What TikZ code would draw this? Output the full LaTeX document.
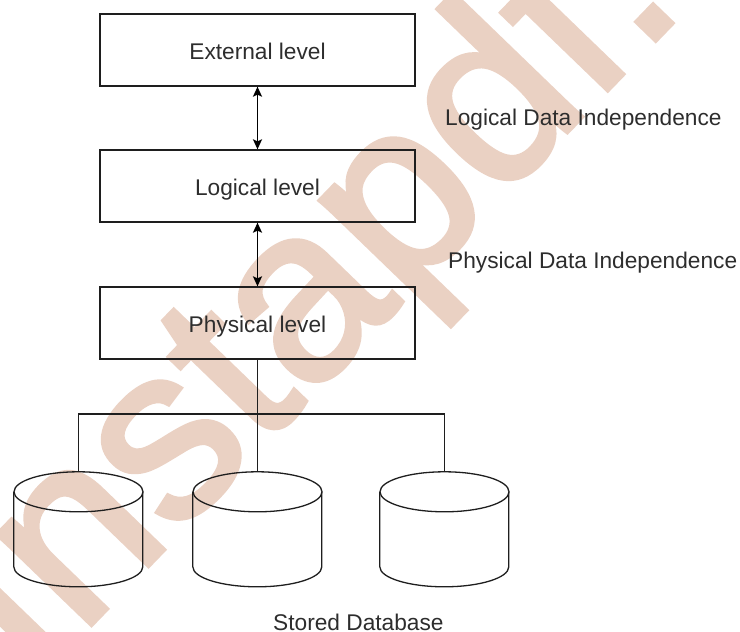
\documentclass[tikz,border=0pt]{standalone}
\usepackage{fontspec}
\setmainfont{Liberation Sans}
\newfontfamily\wmfont[FakeBold=2]{Liberation Sans}
\usetikzlibrary{arrows.meta}
\definecolor{wm}{RGB}{234,209,195}
\definecolor{ink}{RGB}{30,30,30}
\definecolor{txt}{RGB}{45,45,45}
\begin{document}
\begin{tikzpicture}[x=1pt,y=-1pt,
  ln/.style={draw=ink, line width=1.3pt},
  lvl/.style={ln, minimum width=315pt, minimum height=72pt, inner sep=0pt,
    text height=18pt, text depth=0pt, font=\fontsize{22.7}{27}\selectfont, text=txt},
  lab/.style={anchor=base west, inner sep=0pt, font=\fontsize{22.7}{27}\selectfont, text=txt},
  dbox/.style={minimum width=129pt, minimum height=115pt, inner sep=0pt},
  biarrow/.style={ln, draw=black, line width=1.6pt,
    {Stealth[length=10pt,width=9pt,inset=2pt]}-{Stealth[length=10pt,width=9pt,inset=2pt]}}]
\useasboundingbox (0,0) rectangle (740,632);
\begin{scope}
  \clip (0,0) rectangle (740,632);
  \node[anchor=base west, rotate=46, inner sep=0pt, text=wm,
        font=\wmfont\fontsize{246}{246}\selectfont] (wmk) at (32,686) {Instapdf.};
\end{scope}
\node[lvl] (ext) at (257.5,50) {External level};
\node[lvl] (log) at (257.5,186) {Logical level};
\node[lvl] (phy) at (257.5,323) {Physical level};
\draw[biarrow] (ext) -- (log);
\draw[biarrow] (log) -- (phy);
\node[lab] (ldi) at (445,125) {Logical Data Independence};
\node[lab] (pdi) at (448,268) {Physical Data Independence};
\foreach \n/\c in {c1/78.5, c2/257.5, c3/444.5}{
  \node[dbox] (\n) at (\c,529.5) {};
  \draw[ln] (\n.north) ++(0,20) ellipse [x radius=64.5pt, y radius=20pt];
  \draw[ln] (\n.north west) ++(0,20) -- ++(0,75)
    arc [start angle=180, end angle=360, x radius=64.5pt, y radius=20pt]
    -- ++(0,-75);
}
\coordinate (j) at (257.5,414);
\draw[ln] (phy) -- (j);
\draw[ln] (j) -| (c1.north);
\draw[ln] (j) -- (c2.north);
\draw[ln] (j) -| (c3.north);
\node[lab] (sdb) at (273,630) {Stored Database};
\end{tikzpicture}
\end{document}
